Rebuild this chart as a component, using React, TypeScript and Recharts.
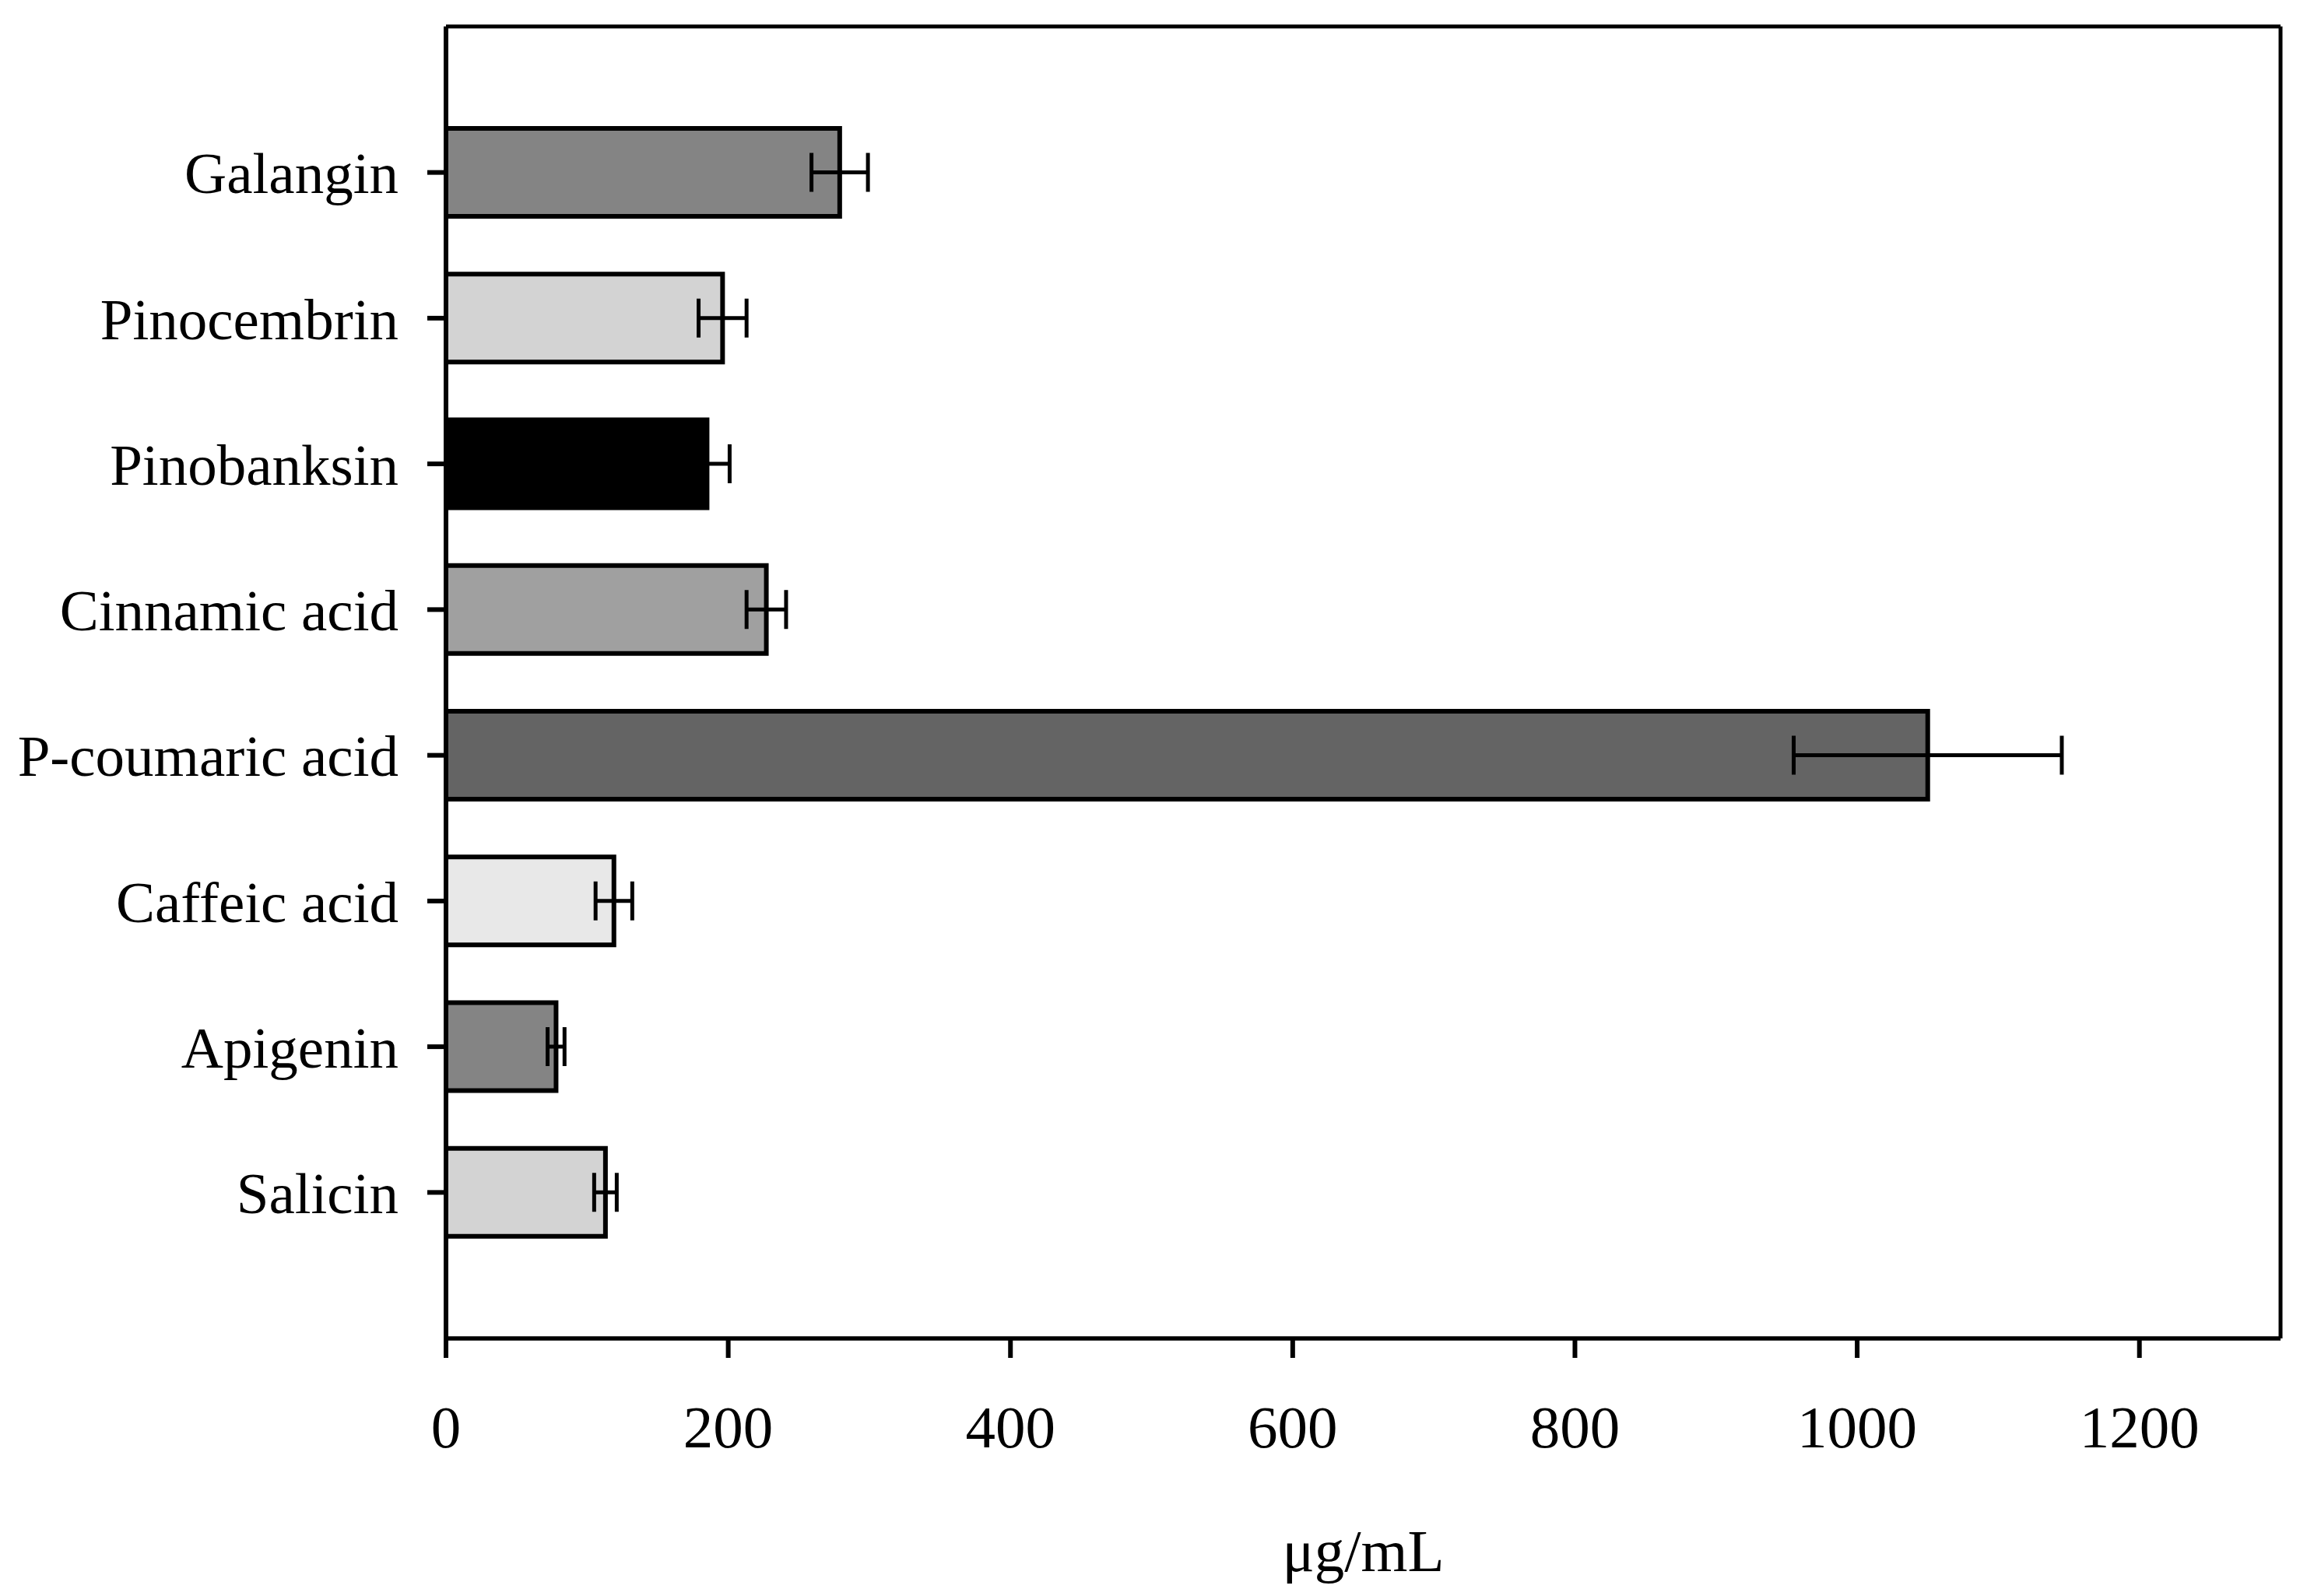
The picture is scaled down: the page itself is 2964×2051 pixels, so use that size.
import React from 'react';
import { BarChart, Bar, XAxis, YAxis, ErrorBar, Cell, Label, CartesianGrid } from 'recharts';

const compounds = ['Galangin', 'Pinocembrin', 'Pinobanksin', 'Cinnamic acid', 'P-coumaric acid', 'Caffeic acid', 'Apigenin', 'Salicin'];
const concentrations = [279, 196, 185, 227, 1050, 119, 78, 113];
const errors = [20, 17, 16, 14, 95, 13, 6, 8];
const fills = ['#848484', '#d3d3d3', '#000000', '#a0a0a0', '#646464', '#e8e8e8', '#848484', '#d3d3d3'];
const xTicks = [0, 200, 400, 600, 800, 1000, 1200];
const xDomain = [0, 1300];
const xTitle = 'μg/mL';

const data = compounds.map((name, i) => ({ name, value: concentrations[i], err: errors[i] }));

const FONT = '"Liberation Serif", "Times New Roman", serif';
const AXIS = { stroke: '#000', strokeWidth: 5.5 };
const TICK = { stroke: '#000', strokeWidth: 6 };

const AxisTitle = (props: any) => {
  const vb = props.viewBox || { x: 0, y: 0, width: 0 };
  return (
    <text x={vb.x + vb.width / 2} y={vb.y + 299} textAnchor="middle" fontFamily={FONT} fontSize={77} fill="#000">
      {xTitle}
    </text>
  );
};

export default function App() {
  return (
    <div style={{ width: 2948, height: 2035, background: '#fff' }}>
      <BarChart
        width={2948}
        height={2035}
        data={data}
        layout="vertical"
        margin={{ top: 26, right: 26, bottom: 13, left: 0 }}
        barSize={113}
      >
        <CartesianGrid
          stroke="#000"
          strokeWidth={5}
          fill="none"
          horizontalCoordinatesGenerator={({ offset }: any) => [offset.top]}
          verticalCoordinatesGenerator={({ offset }: any) => [offset.left + offset.width]}
          xAxisId="main"
          yAxisId="main"
        />
        <XAxis
          xAxisId="main"
          type="number"
          domain={xDomain}
          ticks={xTicks}
          allowDataOverflow
          height={310}
          tickSize={25}
          tickMargin={60}
          axisLine={AXIS}
          tickLine={TICK}
          tick={{ fill: '#000', fontSize: 77, fontFamily: FONT }}
        >
          <Label content={<AxisTitle />} />
        </XAxis>
        <YAxis
          yAxisId="main"
          type="category"
          dataKey="name"
          width={565}
          tickSize={24}
          tickMargin={37}
          padding={{ top: 94, bottom: 94 }}
          axisLine={{ stroke: '#000', strokeWidth: 6 }}
          tickLine={TICK}
          tick={{ fill: '#000', fontSize: 75, fontFamily: FONT }}
          interval={0}
        />
        <Bar dataKey="value" xAxisId="main" yAxisId="main" stroke="#000" strokeWidth={6} isAnimationActive={false}>
          {data.map((d, i) => (
            <Cell key={d.name} fill={fills[i]} />
          ))}
          <ErrorBar dataKey="err" direction="x" width={25} stroke="#000" strokeWidth={5} isAnimationActive={false} />
        </Bar>
      </BarChart>
    </div>
  );
}
